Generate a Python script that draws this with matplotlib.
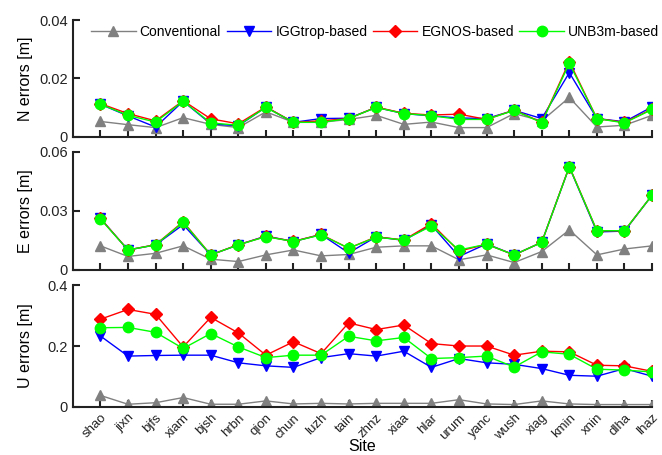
import numpy as np
import matplotlib.pyplot as plt

plt.rcParams['font.family'] = ['Liberation Sans', 'DejaVu Sans']

sites = ["shao", "jixn", "bjfs", "xiam", "bjsh", "hrbn", "qion", "chun", "luzh", "tain", "zhnz",
         "xiaa", "hlar", "urum", "yanc", "wush", "xiag", "kmin", "xnin", "dlha", "lhaz"]

# N errors [m]
n_conv = [0.0053, 0.0042, 0.0032, 0.0066, 0.0043, 0.0032, 0.0086, 0.0050, 0.0050, 0.0060, 0.0074,
          0.0043, 0.0051, 0.0032, 0.0032, 0.0080, 0.0055, 0.0135, 0.0034, 0.0040, 0.0074]
n_igg = [0.0112, 0.0072, 0.0034, 0.0122, 0.0045, 0.0038, 0.0102, 0.0050, 0.0063, 0.0064, 0.0101,
         0.0080, 0.0072, 0.0065, 0.0063, 0.0091, 0.0063, 0.0220, 0.0063, 0.0052, 0.0103]
n_egnos = [0.0114, 0.0080, 0.0055, 0.0124, 0.0062, 0.0045, 0.0103, 0.0050, 0.0055, 0.0063, 0.0102,
           0.0081, 0.0075, 0.0078, 0.0060, 0.0092, 0.0050, 0.0258, 0.0063, 0.0050, 0.0095]
n_unb = [0.0112, 0.0074, 0.0051, 0.0122, 0.0048, 0.0040, 0.0101, 0.0050, 0.0050, 0.0063, 0.0101,
         0.0080, 0.0073, 0.0060, 0.0060, 0.0091, 0.0049, 0.0252, 0.0063, 0.0048, 0.0094]

# E errors [m]
e_conv = [0.0122, 0.0068, 0.0084, 0.0122, 0.0054, 0.0042, 0.0076, 0.0101, 0.0071, 0.0078, 0.0115,
          0.0122, 0.0122, 0.0051, 0.0076, 0.0037, 0.0093, 0.0203, 0.0076, 0.0106, 0.0122]
e_igg = [0.0262, 0.0101, 0.0127, 0.0230, 0.0076, 0.0127, 0.0172, 0.0144, 0.0180, 0.0086, 0.0168,
         0.0150, 0.0228, 0.0068, 0.0132, 0.0076, 0.0140, 0.0524, 0.0193, 0.0197, 0.0380]
e_egnos = [0.0262, 0.0101, 0.0128, 0.0245, 0.0076, 0.0128, 0.0170, 0.0145, 0.0180, 0.0110, 0.0168,
           0.0152, 0.0235, 0.0095, 0.0130, 0.0076, 0.0140, 0.0526, 0.0199, 0.0199, 0.0380]
e_unb = [0.0259, 0.0101, 0.0127, 0.0242, 0.0076, 0.0127, 0.0169, 0.0144, 0.0178, 0.0110, 0.0166,
         0.0152, 0.0223, 0.0101, 0.0130, 0.0076, 0.0140, 0.0524, 0.0199, 0.0199, 0.0380]

# U errors [m]
u_conv = [0.038, 0.009, 0.014, 0.031, 0.009, 0.009, 0.020, 0.010, 0.012, 0.010, 0.012,
          0.012, 0.012, 0.024, 0.010, 0.008, 0.020, 0.010, 0.008, 0.008, 0.008]
u_igg = [0.233, 0.167, 0.169, 0.170, 0.170, 0.145, 0.135, 0.130, 0.162, 0.175, 0.167,
         0.183, 0.130, 0.159, 0.145, 0.140, 0.126, 0.104, 0.101, 0.126, 0.101]
u_egnos = [0.288, 0.320, 0.304, 0.197, 0.294, 0.243, 0.170, 0.214, 0.175, 0.276, 0.254,
           0.269, 0.208, 0.200, 0.200, 0.170, 0.183, 0.181, 0.137, 0.135, 0.117]
u_unb = [0.260, 0.261, 0.245, 0.192, 0.241, 0.197, 0.162, 0.170, 0.170, 0.232, 0.217,
         0.228, 0.159, 0.162, 0.167, 0.131, 0.181, 0.173, 0.124, 0.121, 0.115]

labels = ["Conventional", "IGGtrop-based", "EGNOS-based", "UNB3m-based"]
colors = ["#808080", "#0000ff", "#ff0000", "#00ff00"]
markers = ["^", "v", "D", "o"]
msizes = [7, 7, 6, 7.5]

x = np.arange(1, len(sites) + 1)

fig = plt.figure(figsize=(6.62, 4.55), dpi=100)
ax1 = fig.add_axes([0.110, 0.699, 0.875, 0.257])
ax2 = fig.add_axes([0.110, 0.407, 0.875, 0.259])
ax3 = fig.add_axes([0.110, 0.1055, 0.875, 0.268])

panels = [
    (ax1, [n_conv, n_igg, n_egnos, n_unb], "N errors [m]", [0, 0.02, 0.04], ["0", "0.02", "0.04"]),
    (ax2, [e_conv, e_igg, e_egnos, e_unb], "E errors [m]", [0, 0.03, 0.06], ["0", "0.03", "0.06"]),
    (ax3, [u_conv, u_igg, u_egnos, u_unb], "U errors [m]", [0, 0.2, 0.4], ["0", "0.2", "0.4"]),
]

for ax, series, ylab, yt, ytl in panels:
    for s, lab, c, m, ms in zip(series, labels, colors, markers, msizes):
        ax.plot(x, s, color=c, marker=m, markersize=ms, linewidth=1, label=lab)
    ax.set_xlim(0, 21)
    ax.set_ylim(yt[0], yt[-1])
    ax.set_yticks(yt)
    ax.set_yticklabels(ytl)
    ax.set_xticks(x)
    ax.set_ylabel(ylab, fontsize=11.5)
    ax.spines['top'].set_visible(False)
    ax.spines['right'].set_visible(False)
    for sp in ['left', 'bottom']:
        ax.spines[sp].set_linewidth(1.5)
        ax.spines[sp].set_color('#222222')
    ax.tick_params(direction='in', length=5, width=1.5, labelsize=10.5, colors='#222222')
    ax.yaxis.set_label_coords(-0.068, 0.5)

ax1.set_xticklabels([])
ax2.set_xticklabels([])
ax3.set_xticklabels(sites, rotation=45, ha='right', rotation_mode='anchor', fontsize=9.5)
ax3.set_xlabel("Site", fontsize=11.5)
ax3.xaxis.set_label_coords(0.5, -0.265)

ax1.legend(loc='upper left', bbox_to_anchor=(0.01, 1.063), ncol=4, frameon=False,
           fontsize=10, handlelength=3.2, columnspacing=0.4, handletextpad=0.3)

plt.savefig("out.png", dpi=100)
